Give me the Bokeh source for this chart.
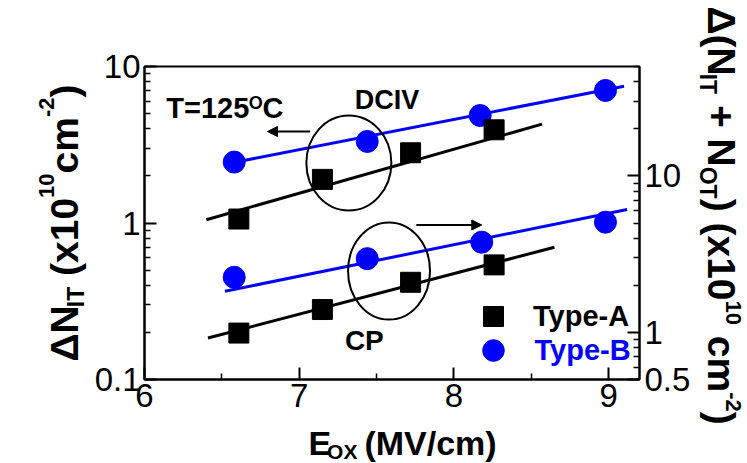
import math
from bokeh.plotting import figure
from bokeh.layouts import row, column
from bokeh.models import (Range1d, LogScale, LogAxis, FixedTicker, CustomJSTickFormatter,
                          Label, Arrow, NormalHead, Legend, LegendItem)
from bokeh.embed import file_html
from bokeh.resources import INLINE

# ---------------- data ----------------
# DCIV (left axis, Delta N_IT in 1e10 cm^-2)
eox_dciv_a = [6.61, 7.15, 7.72, 8.26]
nit_dciv_a = [1.06, 1.90, 2.81, 3.94]
eox_dciv_b = [6.58, 7.44, 8.17, 8.98]
nit_dciv_b = [2.45, 3.32, 4.86, 7.03]
# CP (right axis, Delta(N_IT + N_OT) in 1e10 cm^-2)
eox_cp_a = [6.61, 7.15, 7.72, 8.26]
ntot_cp_a = [0.99, 1.40, 2.09, 2.70]
eox_cp_b = [6.58, 7.44, 8.18, 8.98]
ntot_cp_b = [2.25, 2.96, 3.77, 5.06]
# fitted lines (end points)
fit_dciv_a_x = [6.40, 8.57]
fit_dciv_a_y = [1.05, 4.28]
fit_dciv_b_x = [6.58, 9.10]
fit_dciv_b_y = [2.44, 7.48]
fit_cp_a_x = [6.41, 8.65]
fit_cp_a_y = [0.92, 3.50]
fit_cp_b_x = [6.52, 9.12]
fit_cp_b_y = [1.83, 6.10]
# ticks
x_ticks = [6, 7, 8, 9]
x_minor = [6.5, 7.5, 8.5]
left_ticks = [0.1, 1, 10]
left_minor = [0.2, 0.3, 0.4, 0.5, 0.6, 0.7, 0.8, 0.9, 2, 3, 4, 5, 6, 7, 8, 9]
right_ticks = [0.5, 1, 10]
right_minor = [0.6, 0.7, 0.8, 0.9, 2, 3, 4, 5, 6, 7, 8, 9, 20, 30, 40, 50]

BLUE = "#0000FF"
FONT = "Liberation Sans"

W, H = 747, 463
FL, FR, FT, FB = 141, 640, 66, 379          # plot frame in window pixels
X0, X1 = 6.0, 9.2
Y0, Y1 = 0.1, 10.0
LW, RW = 91, 54                              # side strips (axis titles)
MAIN_W = W - LW - RW
MAIN_H = 423
BOT_H = H - MAIN_H
BASE_K = 0.35                                # label anchor correction (em)

p = figure(width=MAIN_W, height=MAIN_H, title=None, x_range=Range1d(X0, X1),
           y_range=Range1d(Y0, Y1), y_axis_type="log", output_backend="svg",
           toolbar_location=None, min_border_left=FL - LW, min_border_right=W - RW - FR,
           min_border_top=FT, min_border_bottom=MAIN_H - FB)
p.extra_y_ranges = {"right": Range1d(0.5, 50)}
p.extra_y_scales = {"right": LogScale()}
p.xgrid.visible = False
p.ygrid.visible = False
p.outline_line_color = "black"
p.outline_line_width = 2
p.background_fill_color = "white"
p.border_fill_color = "white"

fmt = CustomJSTickFormatter(code="return tick < 1 ? tick.toFixed(1) : tick.toFixed(0);")


def style_axis(ax, standoff):
    ax.axis_line_width = 2
    ax.major_tick_in = 12
    ax.major_tick_out = 0
    ax.minor_tick_in = 6
    ax.minor_tick_out = 0
    ax.major_tick_line_width = 2
    ax.minor_tick_line_width = 1.5
    ax.major_label_text_font = FONT
    ax.major_label_text_font_size = "33px"
    ax.major_label_text_font_style = "normal"
    ax.major_label_text_color = "black"
    ax.major_label_standoff = standoff
    ax.axis_label = None


xa = p.xaxis[0]
xa.ticker = FixedTicker(ticks=x_ticks, minor_ticks=x_minor)
style_axis(xa, 4)

ya = p.yaxis[0]
ya.ticker = FixedTicker(ticks=left_ticks, minor_ticks=left_minor)
ya.formatter = fmt
style_axis(ya, 4)

ra = LogAxis(y_range_name="right", ticker=FixedTicker(ticks=right_ticks, minor_ticks=right_minor),
             formatter=fmt)
style_axis(ra, 5)
p.add_layout(ra, "right")

# ---------------- fits ----------------
p.line(fit_dciv_b_x, fit_dciv_b_y, line_color=BLUE, line_width=3)
p.line(fit_dciv_a_x, fit_dciv_a_y, line_color="black", line_width=3)
p.line(fit_cp_b_x, fit_cp_b_y, line_color=BLUE, line_width=3, y_range_name="right")
p.line(fit_cp_a_x, fit_cp_a_y, line_color="black", line_width=3, y_range_name="right")

# ---------------- markers ----------------
r_b = p.scatter(eox_dciv_b, nit_dciv_b, marker="circle", size=22, fill_color=BLUE, line_color=BLUE)
r_a = p.scatter(eox_dciv_a, nit_dciv_a, marker="square", size=20, fill_color="black",
                line_color="black")
p.scatter(eox_cp_b, ntot_cp_b, marker="circle", size=22, fill_color=BLUE, line_color=BLUE,
          y_range_name="right")
p.scatter(eox_cp_a, ntot_cp_a, marker="square", size=20, fill_color="black", line_color="black",
          y_range_name="right")


# ---------------- helpers: window pixel -> main data ----------------
def dx(sx):
    return X0 + (sx - FL) * (X1 - X0) / (FR - FL)


def dy(sy):
    dec = (FB - FT) / (math.log10(Y1) - math.log10(Y0))
    return 10 ** (math.log10(Y0) + (FB - sy) / dec)


# ellipses marking groups
p.ellipse(x=[dx(347)], y=[dy(162.5)], width=85, height=95, width_units="screen",
          height_units="screen", fill_alpha=0, line_color="black", line_width=2)
p.ellipse(x=[dx(387.5)], y=[dy(270.5)], width=82, height=97, width_units="screen",
          height_units="screen", fill_alpha=0, line_color="black", line_width=2)

# arrows
p.add_layout(Arrow(end=NormalHead(size=10, fill_color="black", line_color="black", line_width=1),
                   x_start=dx(308), y_start=dy(131), x_end=dx(265), y_end=dy(131),
                   line_color="black", line_width=2))
p.add_layout(Arrow(end=NormalHead(size=10, fill_color="black", line_color="black", line_width=1),
                   x_start=dx(415), y_start=dy(224.5), x_end=dx(481), y_end=dy(224.5),
                   line_color="black", line_width=2))


# ---------------- strips for axis titles ----------------
def strip(w, h):
    f = figure(width=w, height=h, title=None, x_range=Range1d(0, w), y_range=Range1d(0, h),
               x_axis_location=None, y_axis_location=None, output_backend="svg",
               toolbar_location=None, min_border=0)
    f.xgrid.visible = False
    f.ygrid.visible = False
    f.outline_line_color = None
    f.background_fill_color = "white"
    f.border_fill_color = "white"
    return f


left_f = strip(LW, H)
right_f = strip(RW, H)
bot_f = strip(MAIN_W, BOT_H)

# ---------------- rich text ----------------
CW = {' ': 0.278, '(': 0.333, ')': 0.333, '+': 0.584, '-': 0.333, '/': 0.278, '=': 0.584,
      'A': 0.722, 'B': 0.722, 'C': 0.722, 'D': 0.722, 'E': 0.667, 'I': 0.278, 'M': 0.833,
      'N': 0.722, 'O': 0.778, 'P': 0.667, 'T': 0.611, 'V': 0.667, 'X': 0.667, 'c': 0.556,
      'm': 0.889, 'x': 0.556, '\u0394': 0.667}


def tw(text, size):
    return sum(CW.get(ch, 0.556) for ch in text) * size


def rich(fig, conv, pieces, start, base, orient, color="black"):
    """pieces: (text, size, baseline shift up); positions in window pixels."""
    d = 0.0
    for text, size, shift in pieces:
        body = text.lstrip(" ")
        d += tw(text[:len(text) - len(body)], size)
        if not body:
            continue
        up = shift + BASE_K * size
        if orient == "h":
            sx, sy, ang = start + d, base - up, 0.0
        elif orient == "up":
            sx, sy, ang = base - up, start - d, math.pi / 2
        else:
            sx, sy, ang = base + up, start + d, -math.pi / 2
        x, y = conv(sx, sy)
        fig.add_layout(Label(x=x, y=y, text=body, angle=ang, text_font=FONT,
                             text_font_size=f"{size}px", text_font_style="bold",
                             text_color=color, text_align="left", text_baseline="alphabetic"))
        d += tw(body, size)


def total(pieces):
    return sum(tw(t, s) for t, s, _ in pieces)


main_conv = lambda sx, sy: (dx(sx), dy(sy))
left_conv = lambda sx, sy: (sx, H - sy)
right_conv = lambda sx, sy: (sx - (W - RW), H - sy)
bot_conv = lambda sx, sy: (sx - LW, H - sy)

# x-axis title
xl = [("E", 34, 0), ("OX", 21, -4), (" ", 20, 0), (" (MV/cm)", 34, 0)]
rich(bot_f, bot_conv, xl, (FL + FR) / 2 - total(xl) / 2, 454, "h")

# left axis title
ll = [("\u0394N", 39, 0), ("IT", 23, -6), (" (x10", 39, 0), ("10", 22, 24), ("cm", 39, 0),
      ("-2", 22, 24), (")", 39, 0)]
rich(left_f, left_conv, ll, (FT + FB) / 2 + total(ll) / 2, 78, "up")

# right axis title
rl = [("\u0394(N", 39, 0), ("IT", 23, -8), (" + N", 39, 0), ("OT", 23, -8), (") (x10", 39, 0),
      ("10", 22, 18), (" cm", 39, 0), ("-2", 22, 18), (")", 39, 0)]
rich(right_f, right_conv, rl, 6, 707, "down")

# annotations inside the frame
rich(p, main_conv, [("T=125", 29, 0), ("O", 18, 9), ("C", 29, 0)], 163, 117.5, "h")
rich(p, main_conv, [("DCIV", 27, 0)], 353, 109, "h")
rich(p, main_conv, [("CP", 28, 0)], 343, 350, "h")

# ---------------- legend ----------------
for rend, lab, col, g, loc in [
        (r_a, "Type-A", "black", 50, (465 - FL, FB - 341)),
        (r_b, "Type-B", BLUE, 54, (462.5 - FL, FB - 377))]:
    leg = Legend(items=[LegendItem(label=lab, renderers=[rend])], location=loc,
                 glyph_width=g, glyph_height=g, label_standoff=15, padding=0, margin=0,
                 spacing=0, border_line_alpha=0, background_fill_alpha=0,
                 label_text_font=FONT, label_text_font_size="29px", label_text_font_style="bold",
                 label_text_color=col, label_text_baseline="middle")
    p.add_layout(leg)

layout = row(left_f, column(p, bot_f), right_f)
open("out.html", "w").write(file_html(layout, INLINE))
